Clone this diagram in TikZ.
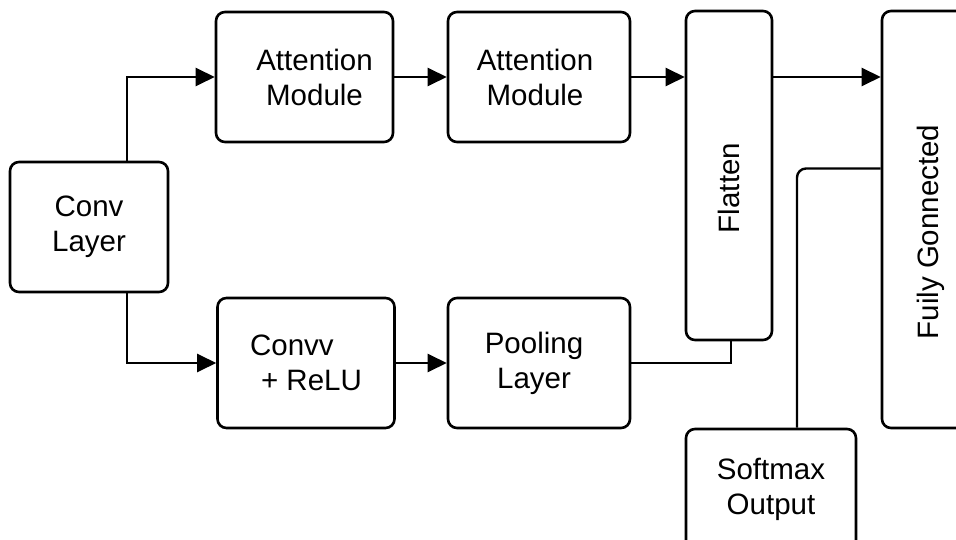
\documentclass[tikz,border=0pt]{standalone}
\usepackage{fontspec}
\setmainfont{Liberation Sans}
\usetikzlibrary{arrows.meta}

\tikzset{
  block/.style={draw, line width=2.6pt, rounded corners=9pt, align=center,
    font=\fontsize{29.5}{35}\selectfont, inner sep=0pt},
  link/.style={line width=2.4pt, -{Triangle[length=19pt,width=18pt]}},
  plain/.style={line width=2.4pt}
}

\begin{document}
\begin{tikzpicture}[x=1pt,y=-1pt]
                    \useasboundingbox (0,0) rectangle (956,540);

                    % left part
                    \node[block, minimum width=158pt, minimum height=130pt] (conv) at (89,227) {Conv\\Layer};
                    \node[block, minimum width=177pt, minimum height=130pt] (att1) at (304.5,77) {\hspace{20pt}Attention\\\hspace{20pt}Module};
                    \node[block, minimum width=182pt, minimum height=130pt] (att2) at (539,77) {\hspace{-8pt}Attention\\\hspace{-8pt}Module};
                    \node[block, minimum width=177pt, minimum height=130pt, align=left] (cvr) at (306,363) {Convv\\\hspace{11pt}+ ReLU};
                    \node[block, minimum width=182pt, minimum height=130pt] (pool) at (539,363) {\hspace{-10pt}Pooling\\\hspace{-10pt}Layer};

                    % right part
                    \node[block, minimum width=86pt, minimum height=329pt] (flat) at (729,175.5) {};
                    \node[rotate=90, font=\fontsize{29.5}{35}\selectfont] (flattxt) at (729,188) {Flatten};
                    \node[block, minimum width=94pt, minimum height=417pt] (fc) at (929,219.5) {};
                    \node[rotate=90, font=\fontsize{29.5}{35}\selectfont] (fctxt) at (931,232) {Fuily Gonnected};
                    \node[block, minimum width=170pt, minimum height=120pt] (soft) at (771,489) {Softmax\\Output};

                    % connections
                    \draw[link] (conv.north -| 127,0) |- (att1.west);
                    \draw[link] (conv.south -| 127,0) |- (cvr.west);
                    \draw[link] (att1.east) -- (att2.west);
                    \draw[link] (att2.east) -- (att2.east -| flat.west);
                    \draw[link] (att2.east -| flat.east) -- (att2.east -| fc.west);
                    \draw[link] (cvr.east) -- (pool.west);
                    \draw[plain] (pool.east) -| ([xshift=2pt]flat.south);
                    \draw[plain, rounded corners=9pt] ([xshift=26pt]soft.north) |- ([yshift=51pt]fc.west);

                \end{tikzpicture}
\end{document}
